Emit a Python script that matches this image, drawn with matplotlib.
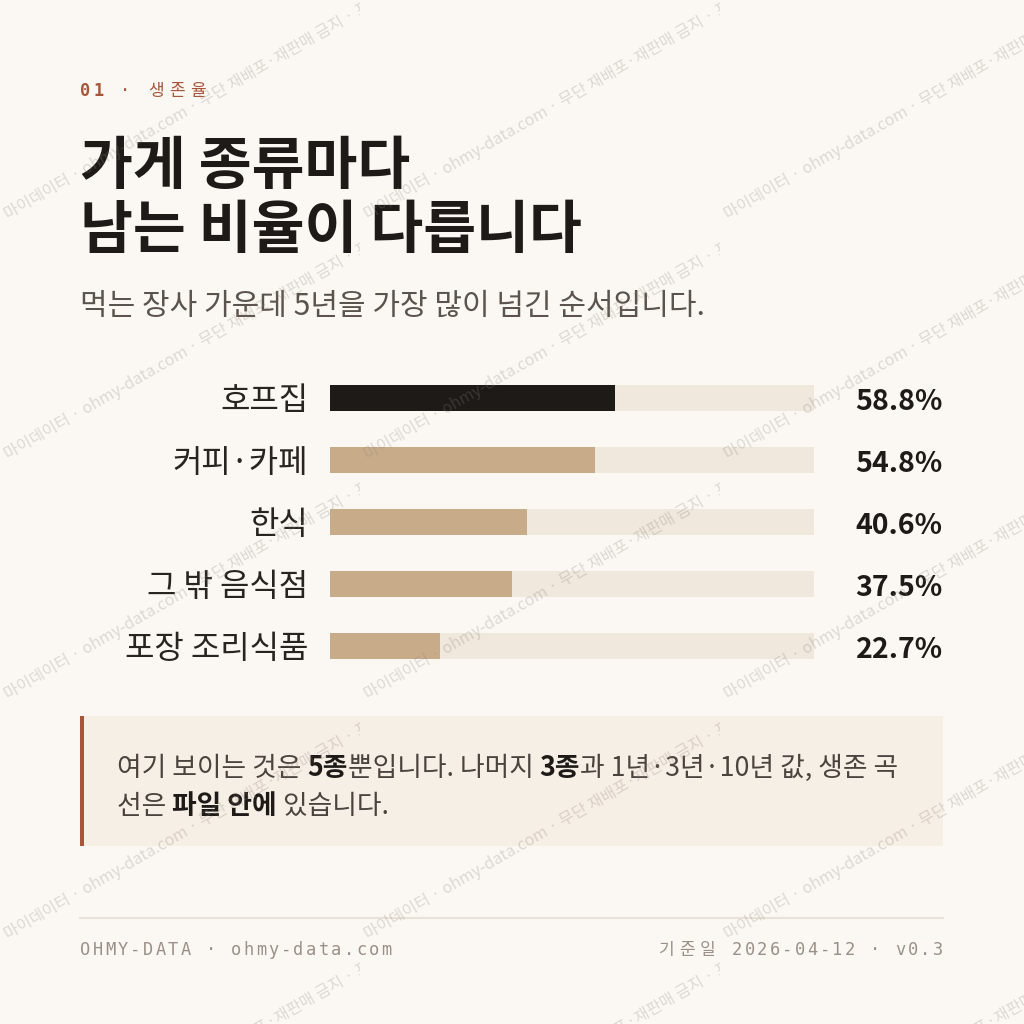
import matplotlib
matplotlib.use("Agg")
import matplotlib.pyplot as plt
from matplotlib.patches import Rectangle
from matplotlib.transforms import Bbox

# --- data ---
CATEGORIES = ['호프집', '커피·카페', '한식', '그 밖 음식점', '포장 조리식품']
SURVIVAL_5Y = [58.8, 54.8, 40.6, 37.5, 22.7]
HIGHLIGHT = '호프집'

# (text, weight, letter spacing in px)
KICKER = [('01', 'bold', 3), (' · ', 'normal', 3.5), ('생존율', 'normal', 5.5)]
TITLE = ['가게 종류마다', '남는 비율이 다릅니다']
SUBTITLE = '먹는 장사 가운데 5년을 가장 많이 넘긴 순서입니다.'
NOTE_LINE1 = [('여기 보이는 것은 ', 'normal'), ('5종', 'bold'), ('뿐입니다. 나머지 ', 'normal'),
              ('3종', 'bold'), ('과 1년·3년·10년 값, 생존 곡', 'normal')]
NOTE_LINE2 = [('선은 ', 'normal'), ('파일 안에', 'bold'), (' 있습니다.', 'normal')]
FOOT_LEFT = [('OHMY-DATA · ohmy-data.com', 'normal', 2.3)]
FOOT_RIGHT = [('기준일', 'normal', 4.5), (' 2026-04-12 · v0.3', 'normal', 2.3)]
WATERMARK = '마이데이터 · ohmy-data.com · 무단 재배포·재판매 금지 · 표본 '

# --- style ---
BG = '#fbf8f3'
INK = '#1e1a17'
TAN = '#c8ac8a'
TRACK = '#f0e8dc'
RUST = '#a9553a'
SUB = '#5b534d'
NOTE_BG = '#f6efe6'
NOTE_TXT = '#4b433d'
FOOT = '#9b9087'
RULE = '#e8e2d9'

KR = ['Noto Sans CJK KR', 'DejaVu Sans']
MONO = ['DejaVu Sans Mono', 'Noto Sans CJK KR']

W = H = 1024
DPI = 100
PT = 72 / DPI  # pixel size -> points

fig = plt.figure(figsize=(W / DPI, H / DPI), dpi=DPI, facecolor=BG)
bg = fig.add_axes([0, 0, 1, 1])
bg.set_xlim(0, W)
bg.set_ylim(H, 0)
bg.axis('off')
renderer = fig.canvas.get_renderer()


def text_width(s, **kw):
    # pipes keep leading/trailing spaces in the measurement
    t1 = bg.text(0, 0, '|' + s + '|', **kw)
    t2 = bg.text(0, 0, '||', **kw)
    w = t1.get_window_extent(renderer).width - t2.get_window_extent(renderer).width
    t1.remove()
    t2.remove()
    return w


def tracked_width(parts, **common):
    total = 0
    last = 0
    for s, weight, track in parts:
        for ch in s:
            total += text_width(ch, fontweight=weight, **common) + track
        last = track
    return total - last


def draw_tracked(x, y, parts, **common):
    for s, weight, track in parts:
        for ch in s:
            bg.text(x, y, ch, ha='left', va='baseline', fontweight=weight, **common)
            x += text_width(ch, fontweight=weight, **common) + track
    return x


# kicker
draw_tracked(80, 96, KICKER, family=MONO, fontsize=17 * PT, color=RUST)

# title + subtitle
bg.text(80, 184, TITLE[0], family=KR, fontsize=57.5 * PT, fontweight='bold', color=INK, va='baseline')
bg.text(80, 248, TITLE[1], family=KR, fontsize=57.5 * PT, fontweight='bold', color=INK, va='baseline')
bg.text(80, 315, SUBTITLE, family=KR, fontsize=30 * PT, color=SUB, va='baseline')

# bars
ax = fig.add_axes([330 / W, 1 - 677 / H, 484 / W, 310 / H])
ax.set_xlim(0, 100)
ax.set_ylim(len(CATEGORIES) - 0.5, -0.5)
ax.axis('off')
ypos = list(range(len(CATEGORIES)))
ax.barh(ypos, [100] * len(CATEGORIES), height=0.42, color=TRACK)
ax.barh(ypos, SURVIVAL_5Y, height=0.42,
        color=[INK if c == HIGHLIGHT else TAN for c in CATEGORIES])
for i, (cat, v) in enumerate(zip(CATEGORIES, SURVIVAL_5Y)):
    ax.text(-4.5, i + 0.05, cat, ha='right', va='center', family=KR, fontsize=32 * PT, color='#2a2420')
    ax.text(126.6, i + 0.06, f'{v:.1f}%', ha='right', va='center', family=KR,
            fontsize=28.5 * PT, fontweight='bold', color=INK, clip_on=False)

# note box
bg.add_patch(Rectangle((80, 716), 863, 130, facecolor=NOTE_BG, edgecolor='none'))
bg.add_patch(Rectangle((80, 716), 4, 130, facecolor=RUST, edgecolor='none'))
note_kw = dict(family=KR, fontsize=26.8 * PT)
for line, base in [(NOTE_LINE1, 776), (NOTE_LINE2, 814)]:
    x = 117
    for s, weight in line:
        bg.text(x, base, s, va='baseline', fontweight=weight,
                color=INK if weight == 'bold' else NOTE_TXT, **note_kw)
        x += text_width(s, fontweight=weight, **note_kw)

# footer
bg.plot([80, 943], [918, 918], color=RULE, lw=1.5)
foot_kw = dict(family=MONO, fontsize=17 * PT, color=FOOT)
draw_tracked(80, 955, FOOT_LEFT, **foot_kw)
right_w = tracked_width(FOOT_RIGHT, **foot_kw)
draw_tracked(943 - right_w, 955, FOOT_RIGHT, **foot_kw)

# watermark tiles on top
wm = fig.add_axes([0, 0, 1, 1], zorder=20)
wm.set_xlim(0, W)
wm.set_ylim(H, 0)
wm.axis('off')
wm.patch.set_alpha(0)
for x0 in range(0, W, 360):
    for y0 in range(0, H, 240):
        t = wm.text(x0 + 8, y0 + 220, WATERMARK, rotation=30, rotation_mode='anchor',
                    ha='left', va='baseline', family=KR, fontsize=16 * PT,
                    color='#8a8078', alpha=0.27)
        t.set_clip_box(Bbox.from_extents(x0, H - (y0 + 240), x0 + 360, H - y0))
        t.set_clip_on(True)

fig.savefig('out.png', dpi=DPI, facecolor=BG)
